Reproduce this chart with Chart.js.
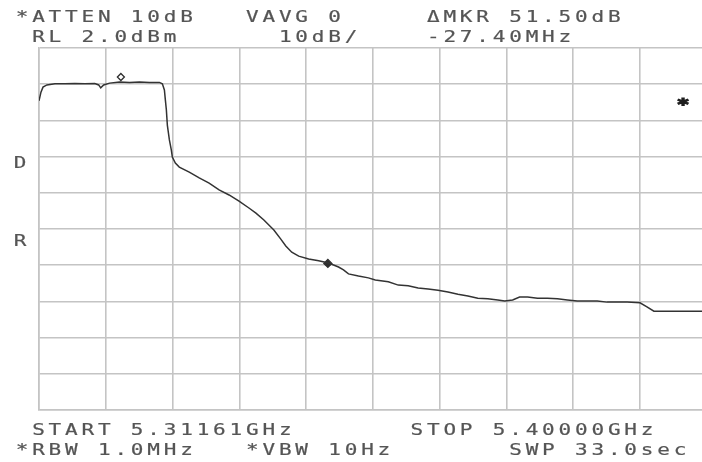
<!DOCTYPE html>
<html>
<head>
<meta charset="utf-8">
<script src="https://cdn.jsdelivr.net/npm/chart.js@4.4.0/dist/chart.umd.min.js"></script>
<style>
  html, body { margin: 0; padding: 0; background: #fff; overflow: hidden; }
  canvas { display: block; }
</style>
</head>
<body>
<canvas id="trace" width="712" height="462"></canvas>
<script>
// sweep settings
const startMHz = 5311.61;
const stopMHz = 5400.00;
const refLevel = 2.0;      // dBm at the top graticule line
const dbPerDiv = 10;
const divisions = 10;

// trace: frequency (MHz) and level (dBm)
const freqMHz = [
  5311.61, 5311.87, 5312.14, 5312.66, 5313.72, 5315.04, 5316.35, 5317.67, 5318.99, 5319.51,
  5319.78, 5320.17, 5320.96, 5322.28, 5323.60, 5324.91, 5326.23, 5327.55, 5327.94, 5328.21,
  5328.34, 5328.47, 5328.60, 5328.87, 5329.13, 5329.26, 5329.66, 5330.18, 5331.50, 5332.82,
  5334.13, 5335.45, 5336.77, 5338.09, 5339.40, 5340.33, 5341.38, 5342.70, 5343.62, 5344.28,
  5345.07, 5345.99, 5347.31, 5348.63, 5349.94, 5351.26, 5351.92, 5352.58, 5353.90, 5355.21,
  5356.13, 5357.85, 5359.17, 5360.48, 5361.80, 5363.12, 5364.43, 5365.75, 5367.07, 5368.39,
  5369.70, 5371.02, 5372.34, 5373.26, 5374.31, 5375.23, 5376.29, 5377.60, 5378.92, 5380.24,
  5381.55, 5382.87, 5384.19, 5385.51, 5386.82, 5388.14, 5389.46, 5391.17, 5392.09, 5393.01,
  5394.73, 5396.70, 5398.68, 5400.00
];
const levelDbm = [
  -12.6, -10.2, -8.8, -8.2, -7.9, -7.9, -7.8, -7.9, -7.8, -8.2,
  -9.0, -8.2, -7.7, -7.4, -7.5, -7.4, -7.5, -7.5, -7.9, -9.6,
  -12.4, -15.1, -19.3, -23.4, -26.2, -28.1, -29.8, -30.9, -32.3, -33.9,
  -35.3, -37.2, -38.6, -40.3, -42.2, -43.6, -45.5, -48.3, -50.8, -52.7,
  -54.4, -55.5, -56.3, -56.8, -57.4, -58.5, -59.3, -60.4, -61.0, -61.5,
  -62.1, -62.6, -63.5, -63.7, -64.3, -64.6, -64.9, -65.4, -66.0, -66.5,
  -67.1, -67.3, -67.6, -67.9, -67.6, -66.8, -66.8, -67.1, -67.1, -67.3,
  -67.6, -67.9, -67.9, -67.9, -68.2, -68.2, -68.2, -68.4, -69.5, -70.7,
  -70.7, -70.7, -70.7, -70.7
];

// marker 1 and the delta marker
const markerMHz = [5322.45, 5349.85];
const markerDbm = [-6.0, -57.5];

const bottomDbm = refLevel - dbPerDiv * divisions;
const deltaDb = markerDbm[0] - markerDbm[1];
const deltaMHz = markerMHz[0] - markerMHz[1];

// annotation rows on the screen's character grid: [column, text]
const rows = [
  { base: 22, items: [[0, '*ATTEN 10dB'], [14, 'VAVG 0'], [25, '\u0394MKR ' + deltaDb.toFixed(2) + 'dB']] },
  { base: 42, items: [[1, 'RL ' + refLevel.toFixed(1) + 'dBm'], [16, dbPerDiv + 'dB/'], [25, deltaMHz.toFixed(2) + 'MHz']] },
  { base: 435, items: [[1, 'START ' + (startMHz / 1000).toFixed(5) + 'GHz'], [24, 'STOP ' + (stopMHz / 1000).toFixed(5) + 'GHz']] },
  { base: 455, items: [[0, '*RBW 1.0MHz'], [14, '*VBW 10Hz'], [30, 'SWP 33.0sec']] }
];

const gridColor = '#c4c4c4';
const inkColor = '#555555';
const cellW = 16.45;
const col0 = 15;

function drawChars(ctx, x, base, str) {
  for (let i = 0; i < str.length; i++) {
    const ch = str[i];
    if (ch === ' ') continue;
    ctx.save();
    ctx.translate(x + i * cellW + 7, base);
    ctx.scale(1.4, 1);
    ctx.fillText(ch, 0, 0);
    ctx.strokeText(ch, 0, 0);
    ctx.restore();
  }
}

const screenText = {
  id: 'screenText',
  afterDraw(chart) {
    const ctx = chart.ctx;
    ctx.save();
    ctx.fillStyle = inkColor;
    ctx.strokeStyle = inkColor;
    ctx.lineWidth = 0.2;
    ctx.font = '15px "DejaVu Sans Mono"';
    ctx.textAlign = 'center';
    ctx.textBaseline = 'alphabetic';
    rows.forEach(r => r.items.forEach(([col, s]) => drawChars(ctx, col0 + col * cellW, r.base, s)));
    // side annunciators
    drawChars(ctx, 13, 168, 'D');
    drawChars(ctx, 13, 246, 'R');
    ctx.fillStyle = '#1e1e1e';
    ctx.strokeStyle = '#1e1e1e';
    ctx.lineWidth = 1.2;
    ctx.font = 'bold 15px "DejaVu Sans Mono"';
    drawChars(ctx, 676, 110, '*');
    ctx.restore();
  }
};

function evenTicks(axis) {
  const step = (axis.max - axis.min) / divisions;
  axis.ticks = [];
  for (let i = 0; i <= divisions; i++) axis.ticks.push({ value: axis.min + i * step });
}

const ctx = document.getElementById('trace').getContext('2d');
new Chart(ctx, {
  type: 'line',
  data: {
    datasets: [{
      label: 'Trace A',
      data: freqMHz.map((f, i) => ({ x: f, y: levelDbm[i] })),
      borderColor: '#333333',
      borderWidth: 1.5,
      pointRadius: 0,
      tension: 0
    }, {
      type: 'scatter',
      label: 'Markers',
      data: markerMHz.map((f, i) => ({ x: f, y: markerDbm[i] })),
      pointStyle: 'rectRot',
      pointRadius: [3.5, 4],
      backgroundColor: ['#ffffff', '#2e2e2e'],
      borderColor: '#2e2e2e',
      borderWidth: 1.3
    }]
  },
  options: {
    responsive: false,
    animation: false,
    devicePixelRatio: 1,
    layout: { padding: { left: 39, top: 48, right: 2, bottom: 52 } },
    plugins: { legend: { display: false }, tooltip: { enabled: false } },
    scales: {
      x: {
        type: 'linear',
        min: startMHz,
        max: stopMHz,
        afterBuildTicks: evenTicks,
        ticks: { display: false },
        grid: { color: gridColor, lineWidth: 1.6, drawTicks: false },
        border: { color: gridColor, width: 1.6 }
      },
      y: {
        min: bottomDbm,
        max: refLevel,
        afterBuildTicks: evenTicks,
        ticks: { display: false },
        grid: { color: gridColor, lineWidth: 1.6, drawTicks: false },
        border: { color: gridColor, width: 1.6 }
      }
    }
  },
  plugins: [screenText]
});
</script>
</body>
</html>
